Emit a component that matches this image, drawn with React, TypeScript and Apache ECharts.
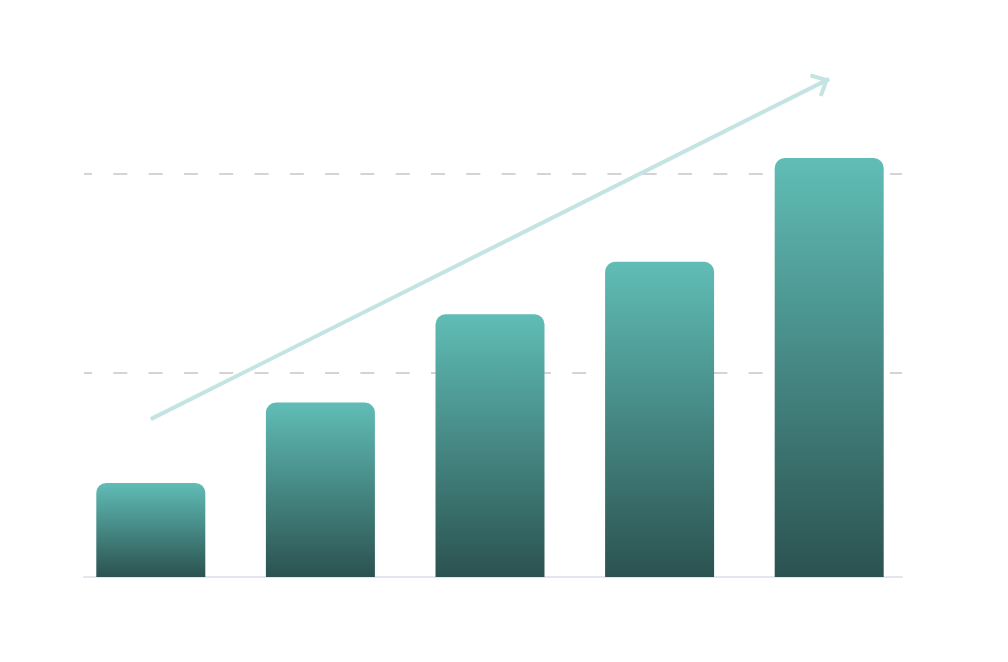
import { useEffect, useRef } from "react"
import * as echarts from "echarts"

// bar chart values (arbitrary units)
const categories = ["A", "B", "C", "D", "E"]
const barValues = [23.3, 43.2, 65.1, 78.1, 103.8]

// dashed guide lines live on their own scale
const guideTicks = { min: 0, max: 2, interval: 1 }

// trend arrow, in bar-axis coordinates [categoryIndex, value]
const arrowFrom = [0, 39.1]
const arrowTo = [4, 123.4]

// open chevron head, tip sits at the centre of its box
const arrowHead =
  "path://M13,0 L13.01,0 L13,0.01 Z M0,30.5 L13,16.6 L26,30.5 L23.1,33.2 L13,22.5 L2.9,33.2 Z"

export default function App() {
  const hostRef = useRef<HTMLDivElement>(null)

  useEffect(() => {
    const el = hostRef.current
    if (!el) return
    const chart = echarts.init(el, undefined, { renderer: "svg" })

    chart.setOption({
      animation: false,
      backgroundColor: "#ffffff",
      grid: [
        // guide lines + baseline
        { left: 84, right: 106, top: 173.3, bottom: 90.7 },
        // bars (value 130 at the top edge)
        { left: 66, right: 94, top: 52.2, bottom: 85 },
      ],
      xAxis: [
        {
          gridIndex: 0,
          type: "value",
          min: 0,
          max: 1,
          offset: 5.7,
          axisLine: { show: true, onZero: false, lineStyle: { color: "#e5e5ee", width: 2 } },
          axisTick: { show: false },
          axisLabel: { show: false },
          splitLine: { show: false },
        },
        {
          gridIndex: 1,
          type: "category",
          data: categories,
          axisLine: { show: false },
          axisTick: { show: false },
          axisLabel: { show: false },
        },
      ],
      yAxis: [
        {
          gridIndex: 0,
          type: "value",
          min: guideTicks.min,
          max: guideTicks.max,
          interval: guideTicks.interval,
          axisLine: { show: false },
          axisTick: { show: false },
          axisLabel: { show: false },
          splitLine: {
            show: true,
            showMinLine: false,
            lineStyle: { color: "#d4d4d4", width: 2, type: [14, 21.3], dashOffset: 6 },
          },
        },
        {
          gridIndex: 1,
          type: "value",
          min: 0,
          max: 130,
          show: false,
          splitLine: { show: false },
        },
      ],
      series: [
        {
          type: "bar",
          xAxisIndex: 1,
          yAxisIndex: 1,
          data: barValues,
          barWidth: 109,
          silent: true,
          itemStyle: {
            borderRadius: [10, 10, 0, 0],
            color: new echarts.graphic.LinearGradient(0, 0, 0, 1, [
              { offset: 0, color: "#60bdb6" },
              { offset: 1, color: "#2b5250" },
            ]),
          },
          markLine: {
            silent: true,
            animation: false,
            symbol: ["none", arrowHead],
            symbolSize: [26, 33.2],
            label: { show: false },
            emphasis: { disabled: true },
            lineStyle: { color: "#c3e4e2", width: 4, type: "solid", opacity: 1 },
            data: [[{ coord: arrowFrom }, { coord: arrowTo }]],
          },
        },
      ],
    })

    return () => {
      chart.dispose()
    }
  }, [])

  return (
    <div
      ref={hostRef}
      style={{ position: "fixed", left: 0, top: 0, width: 1008, height: 662 }}
    />
  )
}
